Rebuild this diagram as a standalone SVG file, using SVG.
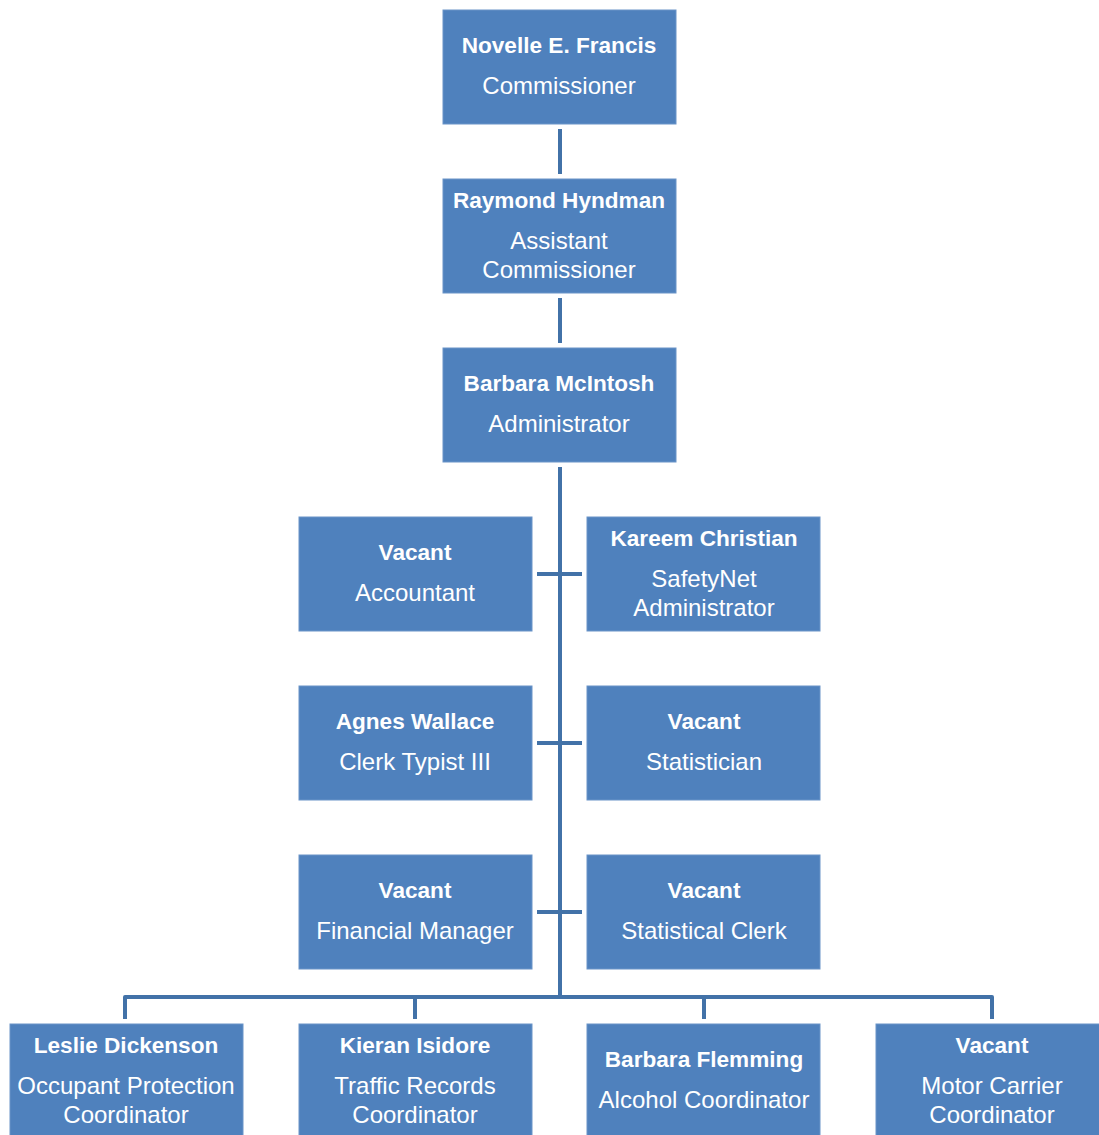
<svg xmlns="http://www.w3.org/2000/svg" width="1099" height="1135" viewBox="0 0 1099 1135">
<style>
.box{fill:#4f81bd;stroke:#6a94c8;stroke-width:1}
.n{font-family:"Liberation Sans",Arial,sans-serif;font-weight:bold;font-size:22.6px;fill:#fff;text-anchor:middle}
.t{font-family:"Liberation Sans",Arial,sans-serif;font-size:24px;fill:#fff;text-anchor:middle}
.c{stroke:#4272a8;stroke-width:4;fill:none;stroke-linejoin:round}
</style>
<rect width="1099" height="1135" fill="#fff"/>
<g id="connectors">
<path class="c" d="M560 129V174"/>
<path class="c" d="M560 298V343"/>
<path class="c" d="M560 467V997"/>
<path class="c" d="M537 574H582M537 743H582M537 912H582"/>
<path class="c" d="M125 1019V997H992V1019M415 997V1019M704 997V1019"/>
</g>
<g id="n1"><rect class="box" x="443" y="10" width="233" height="114"/><text class="n" x="559" y="53">Novelle E. Francis</text><text class="t" x="559" y="94">Commissioner</text></g>
<g id="n2"><rect class="box" x="443" y="179" width="233" height="114"/><text class="n" x="559" y="208">Raymond Hyndman</text><text class="t" x="559" y="249">Assistant</text><text class="t" x="559" y="278">Commissioner</text></g>
<g id="n3"><rect class="box" x="443" y="348" width="233" height="114"/><text class="n" x="559" y="391">Barbara McIntosh</text><text class="t" x="559" y="432">Administrator</text></g>
<g id="n4"><rect class="box" x="299" y="517" width="233" height="114"/><text class="n" x="415" y="560">Vacant</text><text class="t" x="415" y="601">Accountant</text></g>
<g id="n5"><rect class="box" x="587" y="517" width="233" height="114"/><text class="n" x="704" y="546">Kareem Christian</text><text class="t" x="704" y="587">SafetyNet</text><text class="t" x="704" y="616">Administrator</text></g>
<g id="n6"><rect class="box" x="299" y="686" width="233" height="114"/><text class="n" x="415" y="729">Agnes Wallace</text><text class="t" x="415" y="770">Clerk Typist III</text></g>
<g id="n7"><rect class="box" x="587" y="686" width="233" height="114"/><text class="n" x="704" y="729">Vacant</text><text class="t" x="704" y="770">Statistician</text></g>
<g id="n8"><rect class="box" x="299" y="855" width="233" height="114"/><text class="n" x="415" y="898">Vacant</text><text class="t" x="415" y="939">Financial Manager</text></g>
<g id="n9"><rect class="box" x="587" y="855" width="233" height="114"/><text class="n" x="704" y="898">Vacant</text><text class="t" x="704" y="939">Statistical Clerk</text></g>
<g id="n10"><rect class="box" x="10" y="1024" width="233" height="114"/><text class="n" x="126" y="1053">Leslie Dickenson</text><text class="t" x="126" y="1094">Occupant Protection</text><text class="t" x="126" y="1123">Coordinator</text></g>
<g id="n11"><rect class="box" x="299" y="1024" width="233" height="114"/><text class="n" x="415" y="1053">Kieran Isidore</text><text class="t" x="415" y="1094">Traffic Records</text><text class="t" x="415" y="1123">Coordinator</text></g>
<g id="n12"><rect class="box" x="587" y="1024" width="233" height="114"/><text class="n" x="704" y="1067">Barbara Flemming</text><text class="t" x="704" y="1108">Alcohol Coordinator</text></g>
<g id="n13"><rect class="box" x="876" y="1024" width="233" height="114"/><text class="n" x="992" y="1053">Vacant</text><text class="t" x="992" y="1094">Motor Carrier</text><text class="t" x="992" y="1123">Coordinator</text></g>
</svg>
